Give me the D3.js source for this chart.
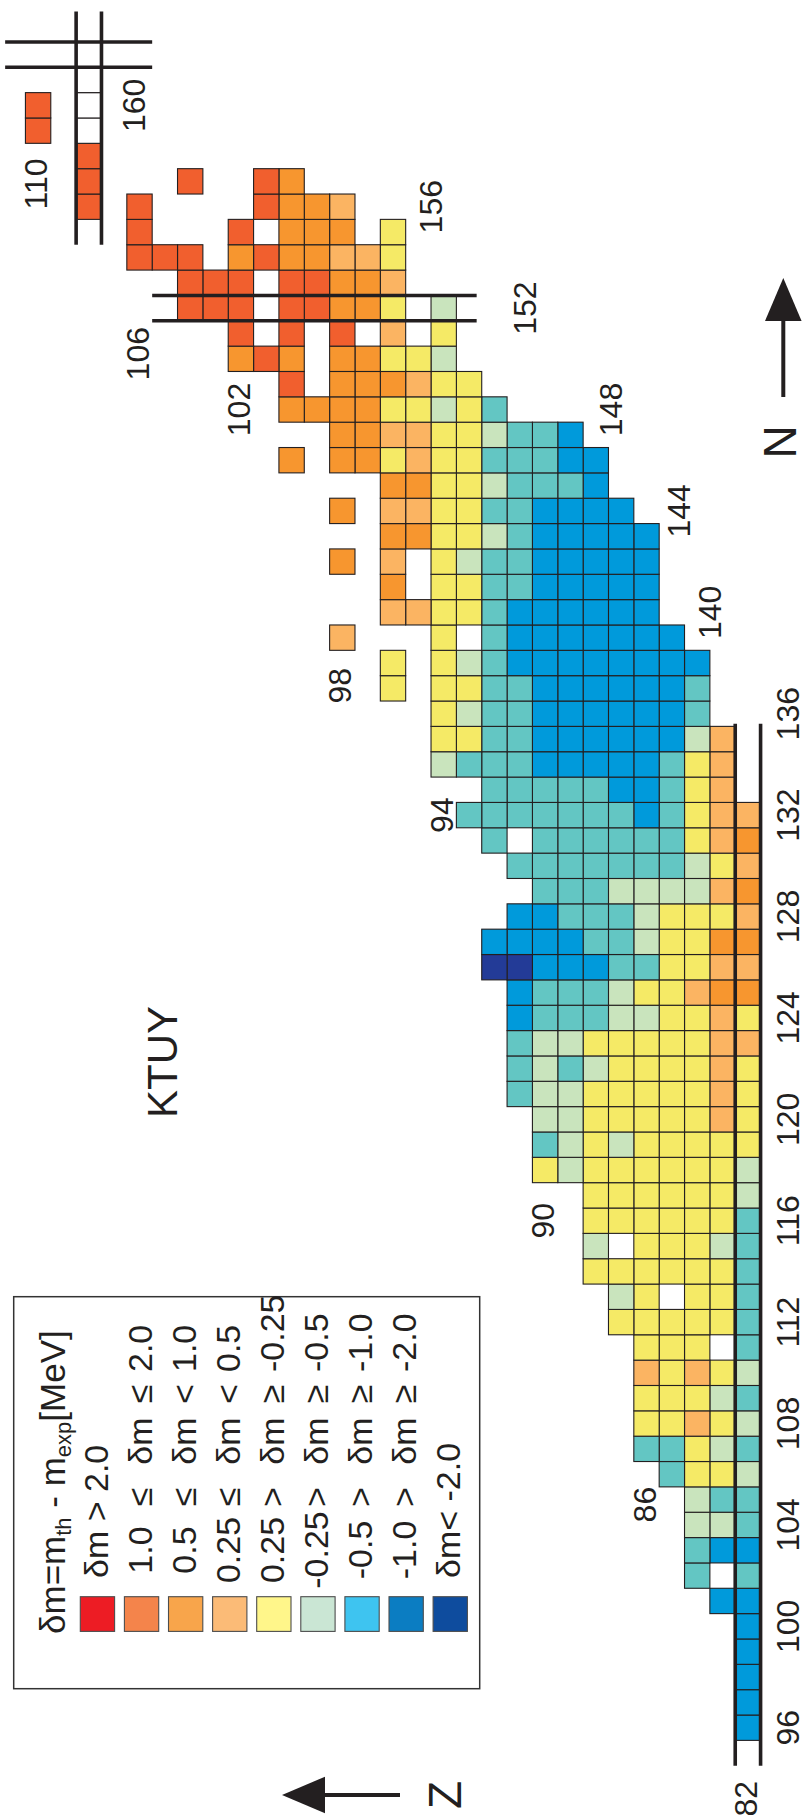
<!DOCTYPE html>
<html>
<head>
<meta charset="utf-8">
<script src="https://cdn.jsdelivr.net/npm/d3@7"></script>
<style>
  body { margin: 0; background: #fff; }
  svg { display: block; }
  text { font-family: "Liberation Sans", Arial, Helvetica, sans-serif; fill: #231f20; }
</style>
</head>
<body>
<svg id="chart" width="806" height="1820"></svg>
<script>
// Mass deviation δm = m_th - m_exp (KTUY) on the chart of nuclides.
// One string per neutron number N (starting at N = 96); each character is the
// deviation class of one nucleus, starting at Z = 82 and counting up.
//   r: 1.0..2.0  o: 0.5..1.0  l: 0.25..0.5  y: ±0.25  g: -0.25..-0.5
//   t: -0.5..-1.0  b: -1.0..-2.0  n: < -2.0  w: no value  .: not shown
const firstN = 96;
const firstZ = 82;
const rowCodes = [
  "b",                            // 96
  "b",                            // 97
  "b",                            // 98
  "b",                            // 99
  "b",                            // 100
  "bb",                           // 101
  "t.t",                          // 102
  "bbt",                          // 103
  "tgg",                          // 104
  "ttg",                          // 105
  "gyyt",                         // 106
  "tgytt",                        // 107
  "gylyy",                        // 108
  "tgyyy",                        // 109
  "gylyl",                        // 110
  "t.yyy",                        // 111
  "tyyyyy",                       // 112
  "tyy.yg",                       // 113
  "tyyyyyy",                      // 114
  "tgyyy.g",                      // 115
  "tyyyyyy",                      // 116
  "gyyyyyy",                      // 117
  "gyyyyyygy",                    // 118
  "yyyyygygt",                    // 119
  "ylyyyyygg",                    // 120
  "ylyyyyyggt",                   // 121
  "ylyyyygtgt",                   // 122
  "llyyyyyggt",                   // 123
  "ylyyggtttb",                   // 124
  "oolyygtttb",                   // 125
  "llyyttbbbnn",                  // 126
  "ooyygttbbbb",                  // 127
  "lyyygtttbb",                   // 128
  "olggggttt",                    // 129
  "lygttttttt",                   // 130
  "olytttttt.t",                  // 131
  "llytbttttttt",                 // 132
  ".lytbbttttt",                  // 133
  ".lytbbbbbtttg",                // 134
  ".lgbbbbbbttyy",                // 135
  "..tbbbbbbttgy",                // 136
  "..tbbbbbbttyy.y",              // 137
  "..bbbbbbbbtgy.y",              // 138
  "...bbbbbbbt.y...l",            // 139
  "....bbbbbbtyyll",              // 140
  "....bbbbbttyy.o",              // 141
  "....bbbbbttgy.l.o",            // 142
  "....bbbbbtgyyoo",              // 143
  ".....bbbbttyyll.o",            // 144
  "......btttgyyoo",              // 145
  "......bbtttyylyoo.o",          // 146
  ".......bttgyylloo",            // 147
  "..........tygyyoooo",          // 148
  "...........yylooo.r",          // 149
  "............gyyoo.oro",        // 150
  "............y.l.r.r.r",        // 151
  "............g.yoorr.rrr",      // 152
  "..............loorr.rrr",      // 153
  "..............yllooro.rrr",    // 154
  "..............y.ooo.r...r",    // 155
  "................loor....r.r",  // 156
  "..................or..r...r",  // 157
  "..........................r",  // 158
  "..........................w.r",// 159
  "..........................w.r",// 160
  "..........................w"   // 161
];

// Cell fill for each class code
const cellCodes  = ["r", "o", "l", "y", "g", "t", "b", "n", "w"];
const cellColors = ["#f15f2e", "#f7962f", "#fbb462", "#f5ea66", "#c9e4bd", "#63c6c3", "#009adb", "#233b97", "#ffffff"];

// Legend classes
const legendColors = ["#ed1c24", "#f4844b", "#f8a54b", "#fbbb77", "#fff68a", "#cae6d4", "#3ec4f0", "#0b7dc2", "#0e4c9e"];
const legendLow    = ["", "1.0", "0.5", "0.25", "0.25", "-0.25", "-0.5", "-1.0", ""];
const legendRel1   = ["", "\u2264", "\u2264", "\u2264", ">", ">", ">", ">", ""];
const legendRel2   = ["", "\u2264", "<", "<", "\u2265", "\u2265", "\u2265", "\u2265", ""];
const legendHigh   = ["", "2.0", "1.0", "0.5", "-0.25", "-0.5", "-1.0", "-2.0", ""];
const legendSingle = ["\u03b4m > 2.0", "", "", "", "", "", "", "", "\u03b4m< -2.0"];

// Tick labels: neutron numbers (placed at a Z position) and proton numbers (placed at an N position)
const nTickValues = [96, 100, 104, 108, 112, 116, 120, 124, 128, 132, 136, 140, 144, 148, 152, 156, 160];
const nTickAtZ    = [80.4, 80.4, 80.4, 80.4, 80.4, 80.4, 80.4, 80.4, 80.4, 80.4, 80.4, 83.5, 84.7, 87.4, 90.8, 94.5, 106.2];
const zTickValues = [82, 86, 90, 94, 98, 102, 106, 110];
const zTickAtN    = [93.2, 104.8, 116.0, 132.0, 137.1, 148.0, 150.2, 156.9];

// Shell closures drawn as double lines: kind, magic number, extent along the other axis
const shellKind  = ["Z", "N", "Z", "N"];
const shellValue = [82, 152, 108, 162];
const shellFrom  = [94.5, 92.7, 154.5, 105.5];
const shellTo    = [135.6, 105.5, 163.7, 111.3];

// ---------------------------------------------------------------------------
const svg = d3.select("#chart");
svg.append("rect").attr("width", 806).attr("height", 1820).attr("fill", "#fff");

const cellSize = 25.35;
// The chart is laid out turned a quarter turn: N runs upward, Z runs leftward.
const zScale = d3.scaleLinear().domain([82, 110]).range([747.9, 38.1]);
const nScale = d3.scaleLinear().domain([96, 160]).range([1727.7, 105.3]);
const fill = d3.scaleOrdinal().domain(cellCodes).range(cellColors);

const cells = [];
rowCodes.forEach((codes, i) => {
  const n = firstN + i;
  Array.from(codes).forEach((c, j) => {
    if (c !== ".") cells.push({ n, z: firstZ + j, c });
  });
});

svg.append("g")
  .selectAll("rect")
  .data(cells)
  .join("rect")
  .attr("x", d => zScale(d.z) - cellSize / 2)
  .attr("y", d => nScale(d.n) - cellSize / 2)
  .attr("width", cellSize)
  .attr("height", cellSize)
  .attr("fill", d => fill(d.c))
  .attr("stroke", "#231f20")
  .attr("stroke-width", 1.1);

// Shell-closure double lines
const shells = shellKind.map((k, i) => ({ k, v: shellValue[i], a: shellFrom[i], b: shellTo[i] }));
const shellG = svg.append("g").attr("stroke", "#231f20").attr("stroke-width", 3.6);
shells.forEach(s => {
  [-1, 1].forEach(side => {
    if (s.k === "Z") {
      const x = zScale(s.v) + side * cellSize / 2;
      shellG.append("line").attr("x1", x).attr("x2", x)
        .attr("y1", nScale(s.a)).attr("y2", nScale(s.b));
    } else {
      const y = nScale(s.v) + side * cellSize / 2;
      shellG.append("line").attr("y1", y).attr("y2", y)
        .attr("x1", zScale(s.a)).attr("x2", zScale(s.b));
    }
  });
});

// Rotated text helper
function upText(g, x, y, str, size, anchor) {
  return g.append("text")
    .attr("transform", `translate(${x},${y}) rotate(-90)`)
    .attr("text-anchor", anchor || "middle")
    .attr("dominant-baseline", "central")
    .attr("font-size", size)
    .text(str);
}

// Tick labels
const tickG = svg.append("g");
nTickValues.forEach((v, i) => upText(tickG, zScale(nTickAtZ[i]), nScale(v), v, 32));
zTickValues.forEach((v, i) => upText(tickG, zScale(v) - 2, nScale(zTickAtN[i]), v, 32));

// Model name
upText(svg, 162, 1062, "KTUY", 42);

// Axis arrows
const arrowG = svg.append("g");
arrowG.append("line").attr("x1", 783.3).attr("x2", 783.3).attr("y1", 397).attr("y2", 312)
  .attr("stroke", "#231f20").attr("stroke-width", 4);
arrowG.append("path").attr("d", "M783.3,278 L765,321 L801.6,321 Z").attr("fill", "#231f20");
upText(arrowG, 780, 442, "N", 46);

arrowG.append("line").attr("x1", 400).attr("x2", 315).attr("y1", 1795).attr("y2", 1795)
  .attr("stroke", "#231f20").attr("stroke-width", 4);
arrowG.append("path").attr("d", "M282,1795 L325,1776.7 L325,1813.3 Z").attr("fill", "#231f20");
upText(arrowG, 445, 1795, "Z", 46);

// Legend
const leg = svg.append("g");
leg.append("rect").attr("x", 13.7).attr("y", 1296.7).attr("width", 466).attr("height", 392)
  .attr("fill", "none").attr("stroke", "#333").attr("stroke-width", 1.5);

const title = leg.append("text")
  .attr("transform", "translate(65,1634) rotate(-90)")
  .attr("font-size", 35);
title.append("tspan").text("\u03b4m=m");
title.append("tspan").attr("font-size", 22).attr("dy", 6).text("th");
title.append("tspan").attr("dy", -6).text(" - m");
title.append("tspan").attr("font-size", 22).attr("dy", 6).text("exp");
title.append("tspan").attr("dy", -6).text("[MeV]");

const legStep = 44.1;
legendColors.forEach((c, k) => {
  const cx = 95.5 + legStep * k;
  leg.append("rect")
    .attr("x", 80.3 + legStep * k).attr("y", 1596.7)
    .attr("width", 34.3).attr("height", 34.7)
    .attr("fill", c).attr("stroke", "#4d4d4d").attr("stroke-width", 1.1);
  if (legendSingle[k]) {
    upText(leg, cx, 1578, legendSingle[k], 34, "start");
  } else {
    upText(leg, cx, 1550, legendLow[k], 34);
    upText(leg, cx, 1497, legendRel1[k], 34);
    upText(leg, cx, 1441, "\u03b4m", 34);
    upText(leg, cx, 1394, legendRel2[k], 34);
    upText(leg, cx, 1372, legendHigh[k], 34, "start");
  }
});
</script>
</body>
</html>
